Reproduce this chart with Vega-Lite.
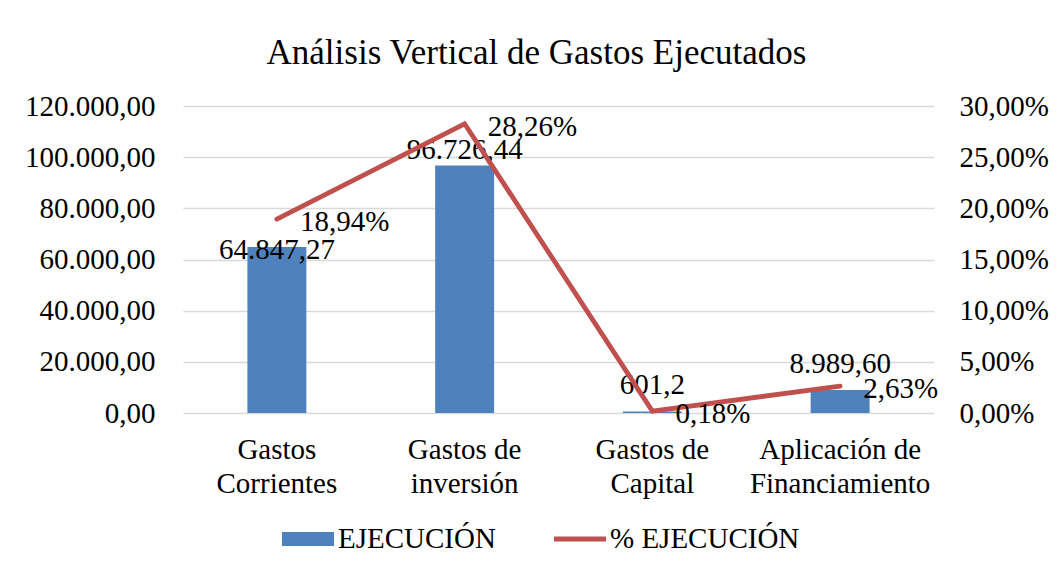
{
  "$schema": "https://vega.github.io/schema/vega-lite/v6.json",
  "width": 751,
  "height": 307,
  "autosize": {"type": "none"},
  "padding": {"left": 183, "top": 106, "right": 126, "bottom": 160},
  "background": "white",
  "title": {
    "text": "Análisis Vertical de Gastos Ejecutados",
    "font": "Liberation Serif",
    "fontSize": 35,
    "fontWeight": "normal",
    "color": "black",
    "anchor": "middle",
    "frame": "bounds",
    "baseline": "alphabetic",
    "offset": -7
  },
  "data": {
    "values": [
      {"cat": "Gastos Corrientes", "ejec": 64847.27, "label": "64.847,27", "pct": 0.1894},
      {"cat": "Gastos de inversión", "ejec": 96726.44, "label": "96.726,44", "pct": 0.2826},
      {"cat": "Gastos de Capital", "ejec": 601.2, "label": "601,2", "pct": 0.0018},
      {"cat": "Aplicación de Financiamiento", "ejec": 8989.6, "label": "8.989,60", "pct": 0.0263}
    ]
  },
  "encoding": {
    "x": {
      "field": "cat",
      "type": "nominal",
      "sort": null,
      "scale": {"paddingInner": 0.686, "paddingOuter": 0.343},
      "axis": {
        "title": null,
        "labelAngle": 0,
        "domain": false,
        "ticks": false,
        "labelPadding": 22,
        "labelLineHeight": 34,
        "labelFont": "Liberation Serif",
        "labelFontSize": 29,
        "labelColor": "black",
        "labelLimit": 400,
        "labelExpr": "[slice(datum.label, 0, lastindexof(datum.label, ' ')), slice(datum.label, lastindexof(datum.label, ' ') + 1)]"
      }
    }
  },
  "layer": [
    {
      "encoding": {
        "y": {
          "field": "ejec",
          "type": "quantitative",
          "scale": {"domain": [0, 120000], "nice": false},
          "axis": {
            "orient": "left",
            "title": null,
            "values": [0, 20000, 40000, 60000, 80000, 100000, 120000],
            "format": ",.2f",
            "grid": true,
            "gridColor": "#D9D9D9",
            "gridWidth": 1.3,
            "domain": false,
            "ticks": false,
            "labelPadding": 28,
            "labelFont": "Liberation Serif",
            "labelFontSize": 29,
            "labelColor": "black"
          }
        }
      },
      "layer": [
        {
          "mark": {"type": "bar"},
          "encoding": {
            "color": {
              "datum": "EJECUCIÓN",
              "scale": {"domain": ["EJECUCIÓN", "% EJECUCIÓN"], "range": ["#4F81BD", "#C0504D"]},
              "legend": {
                "title": null,
                "orient": "none",
                "legendX": 99,
                "legendY": 407,
                "direction": "horizontal",
                "columnPadding": 58,
                "labelFont": "Liberation Serif",
                "labelFontSize": 29,
                "labelColor": "black",
                "labelLimit": 400,
                "labelOffset": 4,
                "symbolSize": 2704,
                "encode": {
                  "symbols": {
                    "update": {
                      "shape": {"signal": "datum.value === 'EJECUCIÓN' ? 'M-1,-0.27H1V0.27H-1Z' : 'M-1,-0.095H1V0.095H-1Z'"},
                      "fill": {"signal": "datum.value === 'EJECUCIÓN' ? '#4F81BD' : '#C0504D'"},
                      "stroke": {"value": "transparent"},
                      "strokeWidth": {"value": 0},
                      "opacity": {"value": 1},
                      "fillOpacity": {"value": 1}
                    }
                  }
                }
              }
            }
          }
        },
        {
          "mark": {
            "type": "text",
            "font": "Liberation Serif",
            "fontSize": 29,
            "color": "black",
            "baseline": "middle",
            "align": "center",
            "dy": {"expr": "datum.cat === 'Gastos Corrientes' ? 3 : (datum.cat === 'Gastos de inversión' ? -16 : -26)"}
          },
          "encoding": {"text": {"field": "label"}}
        }
      ]
    },
    {
      "encoding": {
        "y": {
          "field": "pct",
          "type": "quantitative",
          "scale": {"domain": [0, 0.3], "nice": false},
          "axis": {
            "orient": "right",
            "title": null,
            "values": [0, 0.05, 0.1, 0.15, 0.2, 0.25, 0.3],
            "format": ".2%",
            "grid": false,
            "domain": false,
            "ticks": false,
            "labelPadding": 25,
            "labelFont": "Liberation Serif",
            "labelFontSize": 29,
            "labelColor": "black"
          }
        }
      },
      "layer": [
        {
          "mark": {"type": "line", "strokeWidth": 4.8, "strokeCap": "round", "strokeJoin": "miter"},
          "encoding": {
            "color": {"datum": "% EJECUCIÓN"}
          }
        },
        {
          "mark": {
            "type": "text",
            "font": "Liberation Serif",
            "fontSize": 29,
            "color": "black",
            "baseline": "middle",
            "align": "left",
            "dx": 23,
            "dy": 3
          },
          "encoding": {"text": {"field": "pct", "type": "quantitative", "format": ".2%"}}
        }
      ]
    }
  ],
  "resolve": {"scale": {"y": "independent"}},
  "config": {
    "locale": {"number": {"decimal": ",", "thousands": ".", "grouping": [3], "currency": ["", ""]}},
    "view": {"stroke": null}
  }
}
